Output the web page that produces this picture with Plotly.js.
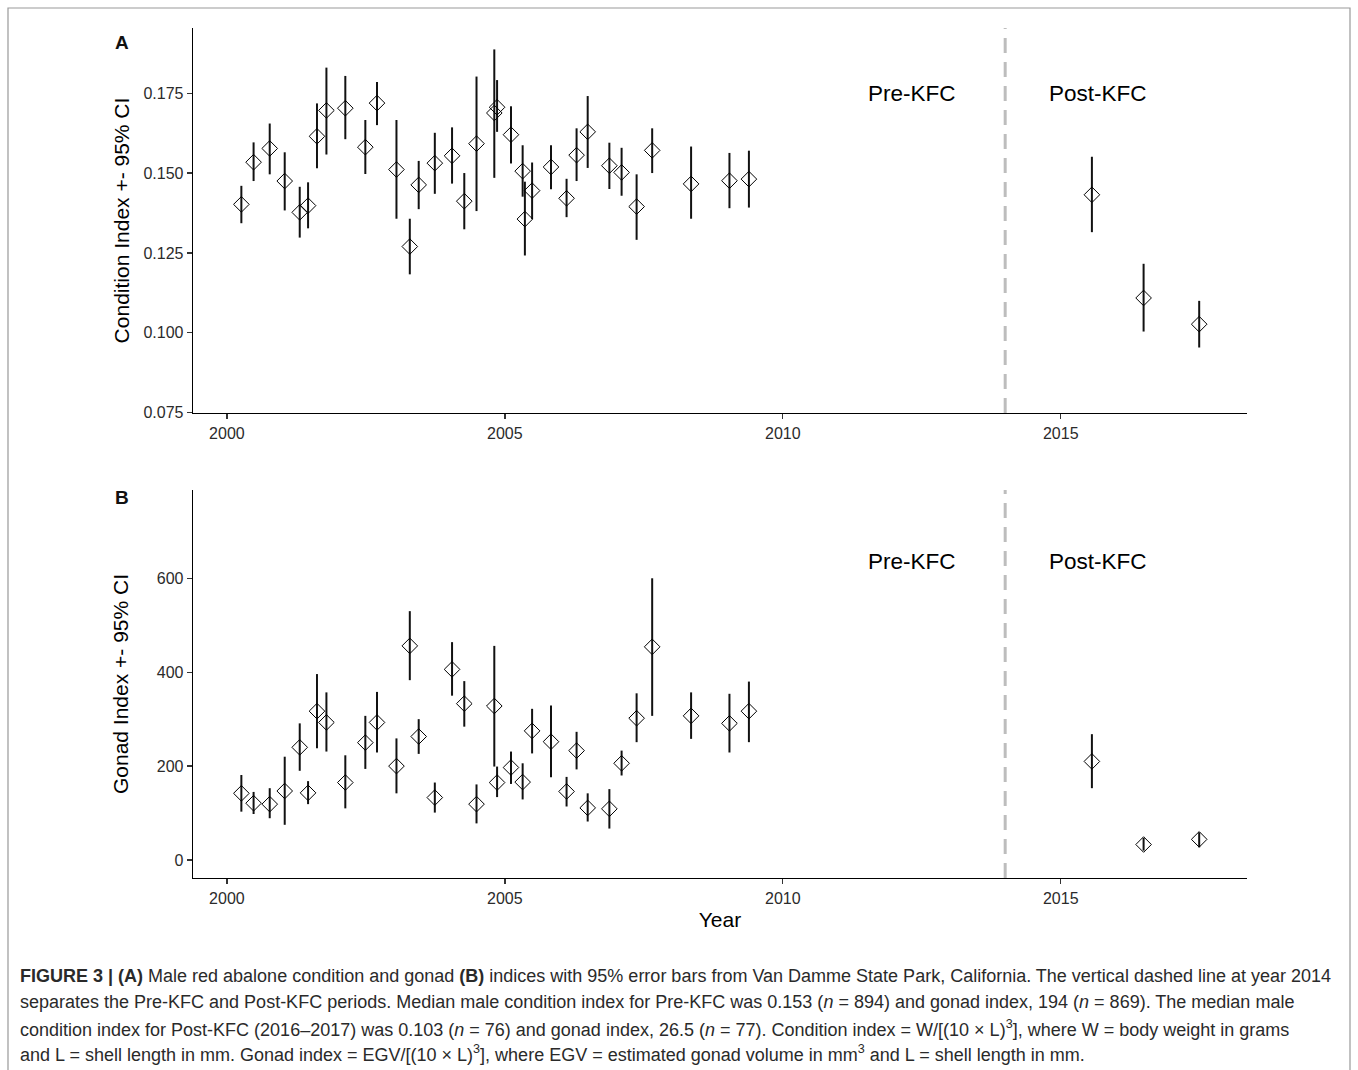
<!DOCTYPE html>
<html>
<head>
<meta charset="utf-8">
<script src="https://cdn.plot.ly/plotly-3.0.1.min.js"></script>
<style>html,body{margin:0;padding:0;background:#fff;} #chart{width:1358px;height:1070px;}</style>
</head>
<body>
<div id="chart"></div>
<script>
// ---- Panel A: condition index (mean and 95% CI) ----
var yearsA = [2000.26, 2000.48, 2000.77, 2001.04, 2001.31, 2001.46, 2001.62, 2001.79, 2002.13, 2002.49,
  2002.70, 2003.05, 2003.29, 2003.45, 2003.74, 2004.05, 2004.27, 2004.49, 2004.81, 2004.86,
  2005.11, 2005.32, 2005.36, 2005.49, 2005.83, 2006.11, 2006.29, 2006.49, 2006.88, 2007.10,
  2007.37, 2007.65, 2008.35, 2009.04, 2009.39, 2015.56, 2016.49, 2017.49];
var condMean = [0.1402, 0.1534, 0.1577, 0.1475, 0.1377, 0.1398, 0.1615, 0.1696, 0.1703, 0.1581,
  0.1719, 0.1511, 0.1270, 0.1463, 0.1531, 0.1554, 0.1412, 0.1592, 0.1688, 0.1706,
  0.1620, 0.1506, 0.1356, 0.1445, 0.1519, 0.1421, 0.1556, 0.1629, 0.1523, 0.1502,
  0.1395, 0.1571, 0.1466, 0.1476, 0.1481, 0.1432, 0.1109, 0.1027];
var condLow = [0.1343, 0.1475, 0.1496, 0.1383, 0.1298, 0.1327, 0.1515, 0.1558, 0.1606, 0.1497,
  0.1650, 0.1357, 0.1183, 0.1387, 0.1435, 0.1467, 0.1324, 0.1381, 0.1485, 0.1629,
  0.1530, 0.1426, 0.1242, 0.1356, 0.1449, 0.1362, 0.1475, 0.1516, 0.1450, 0.1429,
  0.1291, 0.1500, 0.1357, 0.1390, 0.1392, 0.1315, 0.1004, 0.0954];
var condHigh = [0.1460, 0.1596, 0.1655, 0.1565, 0.1457, 0.1471, 0.1718, 0.1830, 0.1804, 0.1666,
  0.1785, 0.1666, 0.1357, 0.1538, 0.1626, 0.1643, 0.1500, 0.1802, 0.1887, 0.1791,
  0.1709, 0.1587, 0.1473, 0.1533, 0.1587, 0.1482, 0.1640, 0.1741, 0.1595, 0.1579,
  0.1496, 0.1640, 0.1583, 0.1563, 0.1570, 0.1551, 0.1216, 0.1100];

// ---- Panel B: gonad index (mean and 95% CI) ----
var yearsB = [2000.26, 2000.48, 2000.77, 2001.04, 2001.31, 2001.46, 2001.62, 2001.79, 2002.13, 2002.49,
  2002.70, 2003.05, 2003.29, 2003.45, 2003.74, 2004.05, 2004.27, 2004.49, 2004.81, 2004.86,
  2005.11, 2005.32, 2005.49, 2005.83, 2006.11, 2006.29, 2006.49, 2006.88, 2007.10, 2007.37,
  2007.65, 2008.35, 2009.04, 2009.39, 2015.56, 2016.49, 2017.49];
var gonadMean = [142, 121, 119, 147, 240, 143, 317, 293, 165, 250,
  293, 200, 456, 263, 133, 406, 333, 119, 328, 165,
  197, 166, 275, 252, 146, 233, 111, 109, 206, 302,
  454, 307, 291, 317, 210, 33, 44];
var gonadLow = [103, 98, 89, 75, 190, 119, 238, 231, 110, 194,
  229, 142, 383, 226, 101, 350, 284, 78, 199, 134,
  162, 129, 227, 176, 114, 193, 82, 67, 180, 251,
  307, 258, 229, 251, 153, 20, 27];
var gonadHigh = [181, 145, 153, 220, 291, 168, 396, 357, 223, 307,
  358, 259, 530, 300, 165, 464, 381, 161, 456, 199,
  231, 206, 322, 329, 177, 273, 142, 151, 233, 355,
  600, 357, 354, 380, 268, 47, 59];

var xTicks = [2000, 2005, 2010, 2015];
var condTicks = [0.075, 0.100, 0.125, 0.150, 0.175];
var gonadTicks = [0, 200, 400, 600];
var splitYear = 2014;
var periodLabels = ["Pre-KFC", "Post-KFC"];
var panelLabels = ["A", "B"];
var captionLines = [
  "<b>FIGURE 3 | (A)</b> Male red abalone condition and gonad <b>(B)</b> indices with 95% error bars from Van Damme State Park, California. The vertical dashed line at year 2014",
  "separates the Pre-KFC and Post-KFC periods. Median male condition index for Pre-KFC was 0.153 (<i>n</i> = 894) and gonad index, 194 (<i>n</i> = 869). The median male",
  "condition index for Post-KFC (2016–2017) was 0.103 (<i>n</i> = 76) and gonad index, 26.5 (<i>n</i> = 77). Condition index = W/[(10 × L)<sup>3</sup>], where W = body weight in grams",
  "and L = shell length in mm. Gonad index = EGV/[(10 × L)<sup>3</sup>], where EGV = estimated gonad volume in mm<sup>3</sup> and L = shell length in mm."
];

function diffs(a, b) { return a.map(function (v, i) { return v - b[i]; }); }

var W = 1358, H = 1070;
function px(x) { return x / W; }
function py(y) { return 1 - y / H; }

var FONT = "Liberation Sans, Arial, sans-serif";
var markerStyle = { symbol: "diamond-open", size: 12, color: "#000", line: { width: 1, color: "#000" } };
var errStyle = { type: "data", symmetric: false, thickness: 2, width: 0, color: "#111" };

var traceA = {
  type: "scatter", mode: "markers", x: yearsA, y: condMean, xaxis: "x", yaxis: "y",
  marker: markerStyle,
  error_y: Object.assign({ array: diffs(condHigh, condMean), arrayminus: diffs(condMean, condLow) }, errStyle),
  showlegend: false, hoverinfo: "x+y"
};
var traceB = {
  type: "scatter", mode: "markers", x: yearsB, y: gonadMean, xaxis: "x2", yaxis: "y2",
  marker: markerStyle,
  error_y: Object.assign({ array: diffs(gonadHigh, gonadMean), arrayminus: diffs(gonadMean, gonadLow) }, errStyle),
  showlegend: false, hoverinfo: "x+y"
};

var xRange = [1999.39, 2018.35];
var axisCommon = {
  showline: true, linecolor: "#000", linewidth: 1.3, mirror: false,
  ticks: "outside", ticklen: 5, tickwidth: 1.3, tickcolor: "#333",
  showgrid: false, zeroline: false,
  tickfont: { family: FONT, size: 16, color: "#2b2b2b" }
};

var layout = {
  width: W, height: H,
  margin: { l: 0, r: 0, t: 0, b: 0 },
  paper_bgcolor: "#fff", plot_bgcolor: "#fff",
  font: { family: FONT, color: "#000" },
  xaxis: Object.assign({}, axisCommon, {
    domain: [px(193), px(1247)], range: xRange, anchor: "y",
    tickvals: xTicks, ticktext: xTicks.map(String)
  }),
  yaxis: Object.assign({}, axisCommon, {
    domain: [py(413), py(28)], range: [0.0749, 0.1954], anchor: "x",
    tickvals: condTicks, ticktext: condTicks.map(function (v) { return v.toFixed(3); }),
    title: { text: "Condition Index +- 95% CI", standoff: 8, font: { family: FONT, size: 21, color: "#000" } }
  }),
  xaxis2: Object.assign({}, axisCommon, {
    domain: [px(193), px(1247)], range: xRange, anchor: "y2",
    tickvals: xTicks, ticktext: xTicks.map(String),
    title: { text: "Year", standoff: 6, font: { family: FONT, size: 21, color: "#000" } }
  }),
  yaxis2: Object.assign({}, axisCommon, {
    domain: [py(878), py(490)], range: [-38.3, 788], anchor: "x2",
    tickvals: gonadTicks, ticktext: gonadTicks.map(String),
    title: { text: "Gonad Index +- 95% CI", standoff: 22, font: { family: FONT, size: 21, color: "#000" } }
  }),
  shapes: [
    { type: "line", xref: "x", yref: "y domain", x0: splitYear, x1: splitYear, y0: 0, y1: 1,
      line: { color: "#BDBDBD", width: 3, dash: "15px,9px" }, layer: "below" },
    { type: "line", xref: "x2", yref: "y2 domain", x0: splitYear, x1: splitYear, y0: 0, y1: 1,
      line: { color: "#BDBDBD", width: 3, dash: "15px,9px" }, layer: "below" },
    { type: "rect", xref: "paper", yref: "paper", x0: px(8), x1: px(1350), y0: py(1076), y1: py(8),
      line: { color: "#999", width: 1.2 }, fillcolor: "rgba(0,0,0,0)" }
  ],
  annotations: []
};

// panel letters
[[panelLabels[0], 42], [panelLabels[1], 497]].forEach(function (p) {
  layout.annotations.push({ xref: "paper", yref: "paper", x: px(122), y: py(p[1]), text: "<b>" + p[0] + "</b>",
    showarrow: false, xanchor: "center", yanchor: "middle", font: { family: FONT, size: 19, color: "#111" } });
});
// period labels
[["x", "y", 0.175], ["x2", "y2", 635]].forEach(function (a) {
  layout.annotations.push({ xref: a[0], yref: a[1], x: 2012.32, y: a[2], text: periodLabels[0], showarrow: false,
    xanchor: "center", yanchor: "middle", font: { family: FONT, size: 22.5, color: "#000" } });
  layout.annotations.push({ xref: a[0], yref: a[1], x: 2015.67, y: a[2], text: periodLabels[1], showarrow: false,
    xanchor: "center", yanchor: "middle", font: { family: FONT, size: 22.5, color: "#000" } });
});
// caption
var capY = [976, 1002, 1028, 1053];
captionLines.forEach(function (t, i) {
  layout.annotations.push({ xref: "paper", yref: "paper", x: px(18), y: py(capY[i]), text: t, showarrow: false,
    xanchor: "left", yanchor: "middle", align: "left",
    font: { family: FONT, size: 18, color: "#2a2a2a" } });
});

Plotly.newPlot("chart", [traceA, traceB], layout, { displayModeBar: false, staticPlot: true });
</script>
</body>
</html>
